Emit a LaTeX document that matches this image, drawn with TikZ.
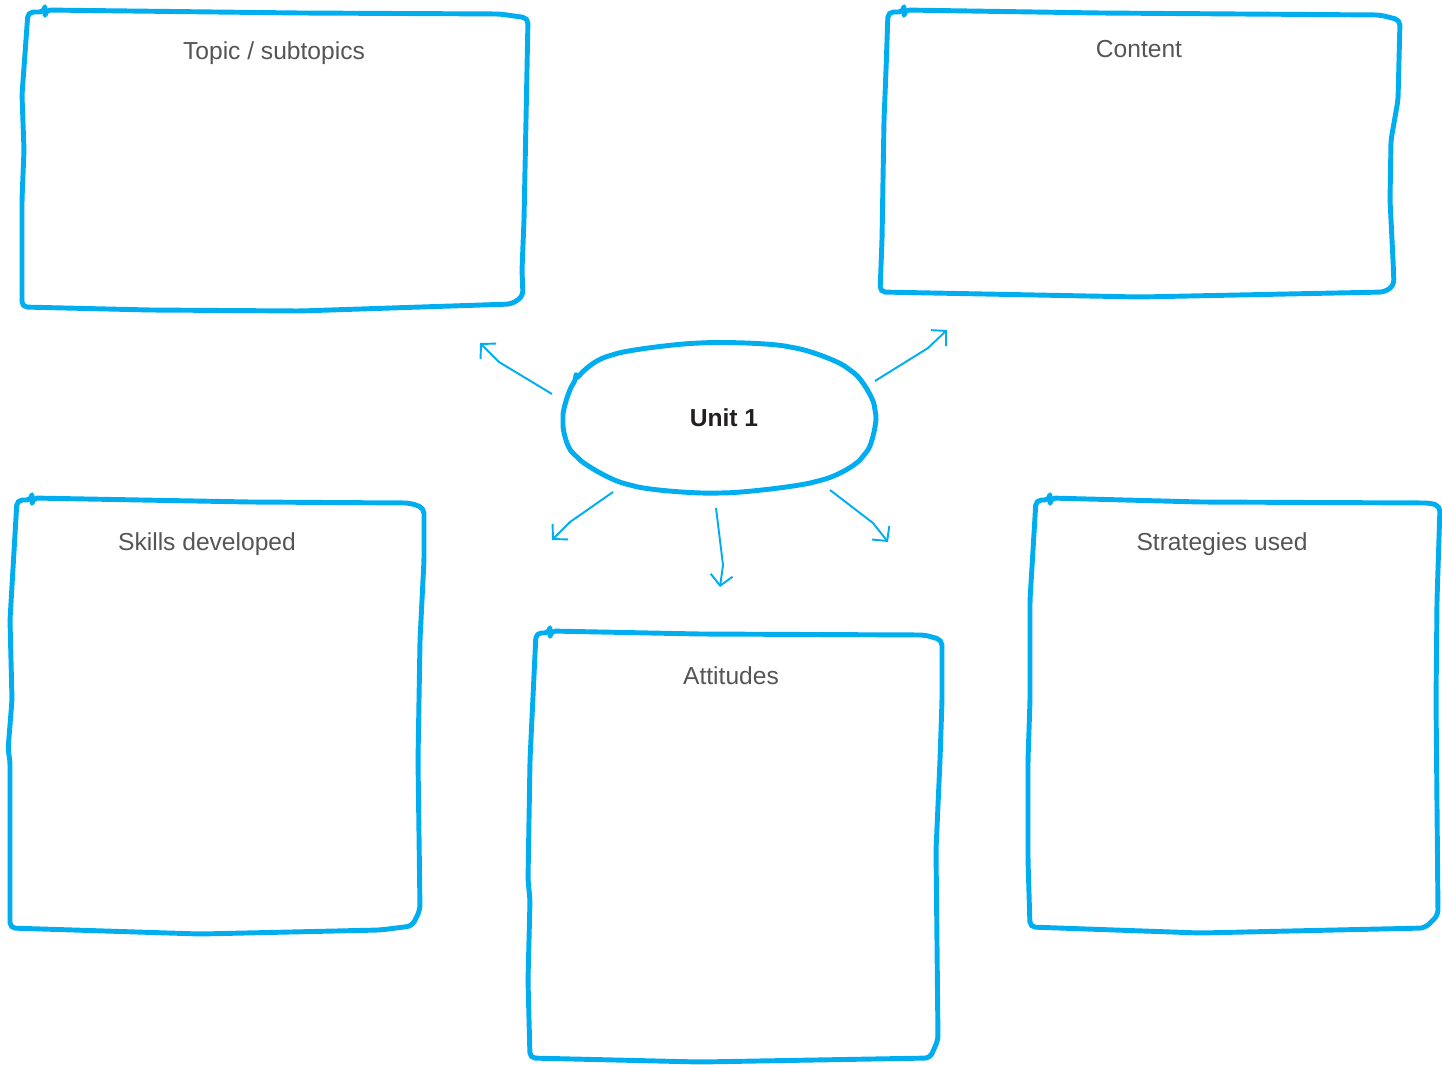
\documentclass[tikz,border=0pt]{standalone}
\usepackage{fontspec}
\setmainfont{Liberation Sans}
\usepackage{xcolor}
\usetikzlibrary{arrows.meta}
\definecolor{sketchblue}{RGB}{0,174,239}
\definecolor{titlegray}{RGB}{85,85,85}
\definecolor{unitblack}{RGB}{35,31,32}

\begin{document}
\begin{tikzpicture}[x=0.02cm, y=-0.02cm,
    sketchbox/.style={draw=sketchblue, line width=2.8pt, line join=round, line cap=round, rounded corners=3pt},
    boxtitle/.style={font=\fontsize{14}{16}\selectfont, text=titlegray},
    arrow/.style={-{Straight Barb[length=0.21cm, width=0.44cm]}, draw=sketchblue, line width=1.1pt, line join=round}]

    \useasboundingbox (0,0) rectangle (1442,1064);

    % hand drawn boxes
    \draw[sketchbox] (28,12) -- (45,12) -- (45,10) -- (300,13) -- (500,14) -- (528,18) -- (526,120) -- (524,220) -- (522,270) -- (523,296) -- (512,304) -- (300,311) -- (150,310) -- (22,307) -- (22,200) -- (24,150) -- (22,95) -- cycle;
    \draw[sketchbox] (888,12) -- (904,12) -- (904,10) -- (1100,13) -- (1380,15) -- (1400,20) -- (1398,100) -- (1391,140) -- (1390,200) -- (1393,260) -- (1394,285) -- (1385,292) -- (1140,297) -- (880,292) -- (882,240) -- (884,120) -- (886,70) -- cycle;
    \draw[sketchbox] (17,500) -- (32,500) -- (32,498) -- (250,502) -- (410,503) -- (424,508) -- (424,560) -- (420,640) -- (418,760) -- (420,910) -- (412,926) -- (380,930) -- (200,934) -- (10,928) -- (10,760) -- (8,750) -- (12,700) -- (10,620) -- cycle;
    \draw[sketchbox] (536,633) -- (550,633) -- (550,631) -- (700,634) -- (925,635) -- (942,640) -- (942,700) -- (940,760) -- (936,850) -- (938,1040) -- (930,1058) -- (700,1062) -- (530,1058) -- (528,980) -- (530,900) -- (528,880) -- (530,760) -- cycle;
    \draw[sketchbox] (1036,500) -- (1050,500) -- (1050,498) -- (1200,502) -- (1430,503) -- (1440,506) -- (1437,600) -- (1436,700) -- (1438,915) -- (1425,928) -- (1200,933) -- (1030,927) -- (1028,860) -- (1028,760) -- (1030,700) -- (1030,600) -- cycle;

    % central blob
    \draw[sketchbox] plot[smooth cycle] coordinates {(563,420) (576,380) (612,355) (700,343) (790,347) (850,370) (875,410) (864,455) (818,481) (720,493) (630,485) (576,456)};
    \node[font=\fontsize{14}{16}\selectfont\bfseries, text=unitblack] (unit) at (724,418) {Unit 1};

    \node[boxtitle] (topic) at (274,53) {Topic / subtopics};
    \node[boxtitle] (content) at (1139,49) {Content};
    \node[boxtitle] (skills) at (207,544) {Skills developed};
    \node[boxtitle] (attitudes) at (731,676) {Attitudes};
    \node[boxtitle] (strategies) at (1222,544) {Strategies used};

    % arrow ends
    \coordinate (ulS) at (552,394);  \coordinate (ulK) at (499,362);  \coordinate (ulE) at (480,343);
    \coordinate (urS) at (875,381);  \coordinate (urK) at (928,348);  \coordinate (urE) at (947,330);
    \coordinate (llS) at (613,492);  \coordinate (llK) at (570,522);  \coordinate (llE) at (552,540);
    \coordinate (dnS) at (716,508);  \coordinate (dnK) at (723,565);  \coordinate (dnE) at (720,587);
    \coordinate (lrS) at (830,490);  \coordinate (lrK) at (873,523);  \coordinate (lrE) at (888,542);

    \draw[arrow] (ulS) -- (ulK) -- (ulE);
    \draw[arrow] (urS) -- (urK) -- (urE);
    \draw[arrow] (llS) -- (llK) -- (llE);
    \draw[arrow] (dnS) -- (dnK) -- (dnE);
    \draw[arrow] (lrS) -- (lrK) -- (lrE);
\end{tikzpicture}
\end{document}
